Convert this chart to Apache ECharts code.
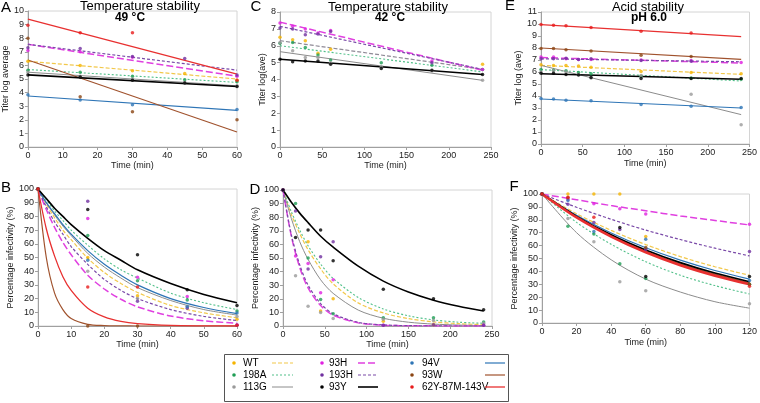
<!DOCTYPE html>
<html>
<head>
<meta charset="utf-8">
<script src="https://cdn.jsdelivr.net/npm/echarts@6/dist/echarts.min.js"></script>
<style>
  html, body { margin: 0; padding: 0; background: #fff; }
  #chart { width: 760px; height: 403px; }
</style>
</head>
<body>
<div id="chart"></div>
<script>
// variants, in legend order
const variants = ['WT', '198A', '113G', '93H', '193H', '93Y', '94V', '93W', '62Y-87M-143V']

// A: 49 °C titer (log), points + linear trend (values at t=0 and t=60)
const aTimes = [0, 15, 30, 45, 60]
const aPoints = {
  'WT': [6.3, 6.0, 5.6, 5.4, 4.9],
  '198A': [5.65, 5.5, 5.2, 4.95, 4.8],
  '113G': [5.5, 5.2, 5.0, 4.75, 4.5],
  '93H': [7.1, 7.0, 6.6, null, 5.2],
  '193H': [7.3, 7.25, 6.65, 6.5, 5.3],
  '93Y': [5.3, 5.15, 4.9, 4.7, 4.45],
  '94V': [3.85, 3.45, 3.1, null, 2.75],
  '93W': [8.0, 3.7, 2.6, null, 2.0],
  '62Y-87M-143V': [8.95, 8.4, 8.4, null, 4.9]
}
const aTrendX = [0, 60]
const aTrend = {
  'WT': [6.3, 5.0], '198A': [5.7, 4.75], '113G': [5.5, 4.5], '93H': [7.55, 5.2], '193H': [7.55, 5.65],
  '93Y': [5.3, 4.45], '94V': [3.75, 2.7], '93W': [6.4, 1.1], '62Y-87M-143V': [9.4, 5.35]
}

// B: 49 °C percentage infectivity
const bTimes = [0, 15, 30, 45, 60]
const bPoints = {
  'WT': [100, 50, 22, null, 5],
  '198A': [100, 66, 33, 19, 11],
  '113G': [100, 40, 20, 14.5, 7],
  '93H': [100, 78.5, 35.5, 21.5, 1],
  '193H': [100, 91, 18, 13, 0.5],
  '93Y': [100, 85, 52, 26.5, 15],
  '94V': [100, 48, null, 14, 9.5],
  '93W': [100, 0, 0, null, null],
  '62Y-87M-143V': [100, 28.5, 28.5, null, 0.5]
}
const bCurveX = [0, 2.5, 5, 7.5, 10, 15, 20, 25, 30, 40, 50, 60]
const bCurve = {
  'WT': [100, 89, 79, 70, 63, 49.5, 39, 31, 24.5, 15, 9.6, 6],
  '198A': [100, 92, 84, 77, 70, 59, 49, 41, 35, 24, 17, 12],
  '113G': [100, 90, 81, 73, 66, 53, 43, 35, 28, 18.6, 12, 8],
  '93H': [100, 85, 72, 61, 52, 37, 27, 19.5, 14, 7.3, 3.8, 2],
  '193H': [100, 87, 76, 67, 58, 45, 34, 26, 20, 12, 7, 4],
  '93Y': [100, 93, 86, 80, 74, 64, 55, 48, 41, 31, 23, 17],
  '94V': [100, 90, 82, 74, 67, 55, 45, 37, 30, 20, 13.5, 9],
  '93W': [100, 50, 24, 12, 5.5, 1.2, 0.3, 0.1, 0, 0, 0, 0],
  '62Y-87M-143V': [100, 71, 51, 36, 26, 13, 6.6, 3.3, 1.7, 0.4, 0.1, 0]
}

// C: 42 °C titer (log)
const cTimes = [0, 15, 30, 45, 60, 120, 180, 240]
const cPoints = {
  'WT': [6.5, 6.35, 6.3, 5.55, 5.8, null, null, 4.9],
  '198A': [6.15, 6.2, 5.9, 5.45, 5.15, 5.0, 4.85, 4.6],
  '113G': [6.2, 5.7, 5.3, 5.3, 5.0, 4.75, 4.5, 3.95],
  '93H': [7.35, 7.15, 7.0, 6.75, 6.9, null, 5.1, 4.6],
  '193H': [7.05, 7.0, 6.65, 6.7, 6.85, null, 5.0, null],
  '93Y': [5.2, 5.05, 5.1, 5.1, 4.9, 4.65, 4.55, 4.3]
}
const cTrendX = [0, 240]
const cTrend = {
  'WT': [6.3, 4.6], '198A': [6.0, 4.45], '113G': [5.65, 3.95],
  '93H': [7.4, 4.55], '193H': [7.15, 4.6], '93Y': [5.2, 4.3]
}

// D: 42 °C percentage infectivity
const dTimes = [0, 15, 30, 45, 60, 120, 180, 240]
const dPoints = {
  'WT': [100, null, 62, 11, 20, 3.5, 1, null],
  '198A': [100, 90, 50, 19.5, 9, 6, 6, 3],
  '113G': [100, 37, 14.5, 10, 5.5, 5, 4, 2],
  '93H': [100, 51.5, 46, 24.5, 34, 0.5, null, 0.5],
  '193H': [100, 84.5, 42, 51, 62, 0.5, 1, 0.5],
  '93Y': [100, 65, 70.5, 70.5, 48, 27, 20, 12]
}
const dCurveX = [0, 10, 20, 30, 45, 60, 90, 120, 150, 180, 210, 240]
const dCurve = {
  'WT': [100, 82, 68, 56, 42, 31, 17, 9.6, 5.4, 3, 1.7, 1],
  '198A': [100, 84, 70.5, 59, 45.5, 35, 21, 12.5, 7.5, 4.5, 2.8, 2],
  '113G': [100, 79, 62, 49, 34, 24, 11.7, 5.7, 2.8, 1.4, 0.7, 0.3],
  '93H': [100, 66, 43, 28, 15, 8, 2.3, 0.6, 0.2, 0.1, 0, 0],
  '193H': [100, 67, 45, 30, 16.5, 9, 2.7, 0.8, 0.25, 0.1, 0, 0],
  '93Y': [100, 91, 83, 76, 66, 58, 44, 33, 25, 19, 14.5, 11]
}

// E: pH 6.0 titer (log)
const eTimes = [0, 15, 30, 45, 60, 120, 180, 240]
const ePoints = {
  'WT': [6.6, 6.55, 6.55, 6.5, 6.4, 6.05, 5.95, 5.85],
  '198A': [6.2, 6.15, 6.1, 5.95, 5.85, 5.65, 5.5, 5.4],
  '113G': [6.0, 6.1, 6.0, 5.8, 5.5, 5.7, 4.15, 1.6],
  '93H': [7.25, 7.25, 7.1, 7.05, 7.05, 7.0, 6.95, 6.8],
  '193H': [7.1, 7.1, 7.15, 7.05, 7.1, 6.95, 6.9, null],
  '93Y': [5.9, 5.9, 5.8, 5.75, 5.55, 5.45, 5.45, 5.45],
  '94V': [3.8, 3.75, 3.65, null, 3.6, 3.3, 3.15, 3.05],
  '93W': [7.95, 7.95, 7.85, null, 7.75, 7.4, 7.3, null],
  '62Y-87M-143V': [9.95, 9.9, 9.85, null, 9.7, 9.4, 9.25, null]
}
const eTrendX = [0, 240]
const eTrend = {
  'WT': [6.55, 5.8], '198A': [6.2, 5.25], '113G': [6.55, 2.45], '93H': [7.2, 6.75], '193H': [7.1, 6.85],
  '93Y': [5.85, 5.4], '94V': [3.75, 3.0], '93W': [8.0, 7.05], '62Y-87M-143V': [9.95, 8.95]
}

// F: pH 6.0 percentage infectivity
const fTimes = [0, 15, 30, 45, 60, 120]
const fPoints = {
  'WT': [100, 100, 100, 100, 67, null],
  '198A': [100, 75, 69, 46, 34.5, 30],
  '113G': [100, 81, 63, 32, 25, 15],
  '93H': [100, 96, 92.5, 88.5, 84.5, 76.5],
  '193H': [100, 92, 78, 72.5, 57, 55.5],
  '93Y': [100, null, null, 74, 36, 36],
  '94V': [100, 95, 71, null, 65, 33],
  '93W': [100, 97, null, null, 58.5, 30],
  '62Y-87M-143V': [100, 97.5, 82, null, null, 28.5]
}
const fCurveX = [0, 20, 40, 60, 80, 100, 120]
const fCurve = {
  'WT': [100, 84.7, 71.8, 60.8, 51.5, 43.6, 37],
  '198A': [100, 78, 61, 47.5, 37, 29, 22.5],
  '113G': [100, 70, 49, 34, 24, 16.5, 11.5],
  '93H': [100, 95.5, 91, 87, 83, 79.5, 76],
  '193H': [100, 89.7, 80.4, 72, 64.7, 58, 52],
  '93Y': [100, 82.7, 68.4, 56.6, 46.8, 38.7, 32],
  '94V': [100, 83.5, 69.8, 58.3, 48.7, 40.7, 34],
  '93W': [100, 82.3, 67.7, 55.7, 45.8, 37.7, 31],
  '62Y-87M-143V': [100, 81.8, 67, 54.8, 44.8, 36.7, 30]
}

// styles
const dotColor = {
  'WT': '#f5b400', '198A': '#1f9e55', '113G': '#9a9a9a', '93H': '#e020e0', '193H': '#7030a0',
  '93Y': '#000000', '94V': '#2e75b6', '93W': '#8b4513', '62Y-87M-143V': '#e81c1c'
}
const lineStyle = {
  'WT': { color: '#f2c84b', type: [4, 2], width: 1.2 },
  '198A': { color: '#52c08a', type: [2, 2], width: 1.1 },
  '113G': { color: '#8c8c8c', type: 'solid', width: 1 },
  '93H': { color: '#e040e0', type: [7, 3], width: 1.5 },
  '193H': { color: '#7a4aa8', type: [3, 2], width: 1.2 },
  '93Y': { color: '#000000', type: 'solid', width: 1.6 },
  '94V': { color: '#2e75b6', type: 'solid', width: 1.2 },
  '93W': { color: '#a0522d', type: 'solid', width: 1.2 },
  '62Y-87M-143V': { color: '#e83030', type: 'solid', width: 1.3 }
}

const FONT = 'Liberation Sans, Arial, sans-serif'
const grids = [
  { left: 26, top: 11, width: 211, height: 136 },
  { left: 38, top: 189, width: 199, height: 137 },
  { left: 280, top: 12, width: 211, height: 135 },
  { left: 283, top: 190, width: 209, height: 136 },
  { left: 541, top: 12, width: 210, height: 132 },
  { left: 542, top: 194, width: 208, height: 129 }
].map(g => ({ ...g, show: true, borderColor: '#d4d4d4', borderWidth: 1 }))

const axisCommon = {
  type: 'value',
  axisLine: { show: true, lineStyle: { color: '#a0a0a0' } },
  axisTick: { show: true, length: 3, lineStyle: { color: '#a0a0a0' } },
  axisLabel: { fontSize: 9, color: '#222', fontFamily: FONT, margin: 4 },
  splitLine: { show: false },
  nameTextStyle: { fontSize: 9, color: '#222', fontFamily: FONT },
  nameLocation: 'middle'
}
const xAxis = (gi, max, step, gap) => ({ ...axisCommon, gridIndex: gi, min: 0, max, interval: step, name: 'Time (min)', nameGap: gap })
const yAxis = (gi, max, step, name, gap) => ({ ...axisCommon, gridIndex: gi, min: 0, max, interval: step, name, nameGap: gap })

const series = []
function addPanel(gi, times, points, fitX, fit, smooth, overrides) {
  variants.forEach(v => {
    if (fit[v]) {
      const ls = { ...lineStyle[v], ...((overrides || {})[v] || {}) }
      series.push({
        name: v, type: 'line', xAxisIndex: gi, yAxisIndex: gi,
        data: fitX.map((t, i) => [t, fit[v][i]]),
        showSymbol: false, smooth: smooth ? 0.3 : false,
        lineStyle: ls, z: v === '93Y' || v === '62Y-87M-143V' ? 3 : 2, silent: true
      })
    }
  })
  variants.forEach(v => {
    if (points[v]) {
      series.push({
        name: v, type: 'scatter', xAxisIndex: gi, yAxisIndex: gi,
        data: times.map((t, i) => [t, points[v][i]]).filter(d => d[1] !== null),
        symbolSize: 3.5, itemStyle: { color: dotColor[v] }, z: 5, silent: true
      })
    }
  })
}
addPanel(0, aTimes, aPoints, aTrendX, aTrend, false)
addPanel(1, bTimes, bPoints, bCurveX, bCurve, true)
addPanel(2, cTimes, cPoints, cTrendX, cTrend, false, { 'WT': { color: '#8f8a96' } })
addPanel(3, dTimes, dPoints, dCurveX, dCurve, true)
addPanel(4, eTimes, ePoints, eTrendX, eTrend, false)
addPanel(5, fTimes, fPoints, fCurveX, fCurve, true, { '62Y-87M-143V': { width: 2.6 }, '93W': { width: 1.6 } })

// text, panel letters and the legend box
const txt = (x, y, text, size, extra) => ({
  type: 'text', x, y,
  style: { text, fontSize: size, fontFamily: FONT, fill: '#000', align: 'center', verticalAlign: 'middle', ...(extra || {}) }
})
const graphic = [
  txt(6, 8, 'A', 15), txt(6, 188, 'B', 15), txt(256, 7, 'C', 15),
  txt(255, 190, 'D', 15), txt(510, 6, 'E', 15), txt(514, 187, 'F', 15),
  txt(140, 6, 'Temperature stability', 13), txt(130, 18, '49 °C', 12, { fontWeight: 'bold' }),
  txt(388, 7, 'Temperature stability', 13), txt(390, 18, '42 °C', 12, { fontWeight: 'bold' }),
  txt(648, 7, 'Acid stability', 13), txt(649, 18, 'pH 6.0', 12, { fontWeight: 'bold' }),
  { type: 'rect', shape: { x: 224.5, y: 354.5, width: 284, height: 47 }, style: { fill: '#fff', stroke: '#555', lineWidth: 1 }, z: 10 }
]
const legendCols = [
  { dot: 234, text: 243, line: [272, 293] },
  { dot: 322, text: 329, line: [358, 378] },
  { dot: 412, text: 422, line: [485, 505] }
]
const legendRows = [363, 375, 387]
variants.forEach((v, i) => {
  const c = legendCols[Math.floor(i / 3)]
  const y = legendRows[i % 3]
  graphic.push({ type: 'circle', shape: { cx: c.dot, cy: y, r: 1.8 }, style: { fill: dotColor[v] }, z: 11 })
  graphic.push({ type: 'text', x: c.text, y, z: 11, style: { text: v, fontSize: 10, fontFamily: FONT, fill: '#000', align: 'left', verticalAlign: 'middle' } })
  const ls = lineStyle[v]
  graphic.push({
    type: 'line', z: 11, shape: { x1: c.line[0], y1: y, x2: c.line[1], y2: y },
    style: { stroke: ls.color, lineWidth: ls.width, lineDash: ls.type === 'solid' ? null : ls.type }
  })
})

const chart = echarts.init(document.getElementById('chart'), null, { renderer: 'canvas' })
chart.setOption({
  animation: false,
  backgroundColor: '#fff',
  grid: grids,
  xAxis: [xAxis(0, 60, 10, 12), xAxis(1, 60, 10, 14), xAxis(2, 250, 50, 12), xAxis(3, 250, 50, 13), xAxis(4, 250, 50, 15), xAxis(5, 120, 20, 15)],
  yAxis: [
    yAxis(0, 10, 1, 'Titer log average', 12),
    yAxis(1, 100, 10, 'Percentage infectivity (%)', 19),
    yAxis(2, 8, 1, 'Titer log(ave)', 13),
    yAxis(3, 100, 10, 'Percentage infectivity (%)', 18),
    yAxis(4, 11, 1, 'Titer log (ave)', 17),
    yAxis(5, 100, 10, 'Percentage infectivity (%)', 18)
  ],
  series,
  graphic
})
window.addEventListener('resize', () => chart.resize())
</script>
</body>
</html>
